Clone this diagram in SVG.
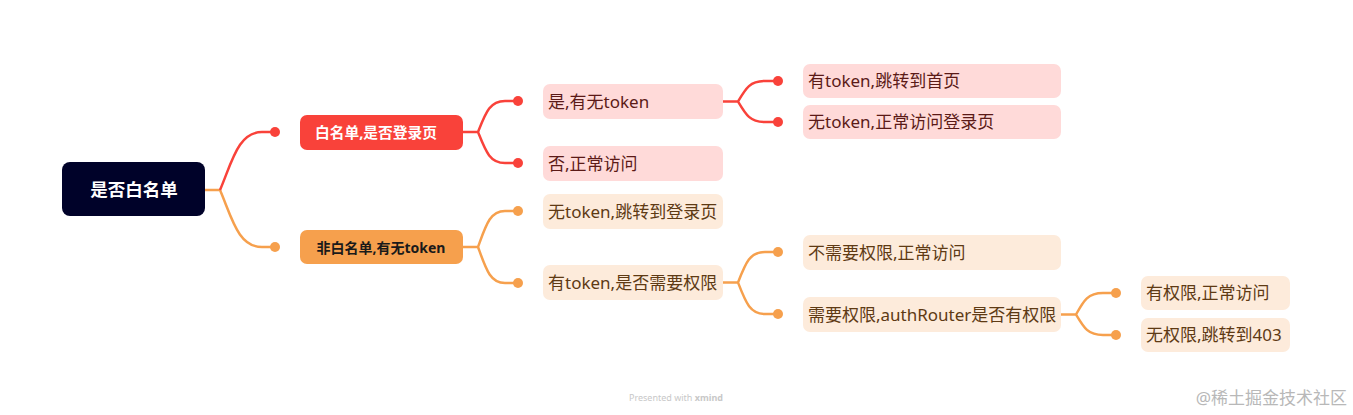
<svg xmlns="http://www.w3.org/2000/svg" width="1353" height="415" viewBox="0 0 1353 415">
<style>
text{font-family:"Noto Sans","Noto Sans CJK SC",sans-serif}
.lr{fill:#FFDAD9}
.lo{fill:#FDEBDB}
.tr{fill:#5B1A17;font-size:17px}
.to{fill:#5E3A14;font-size:17px}
.cr{fill:none;stroke:#F9423A;stroke-width:2.5}
.co{fill:none;stroke:#F6A04D;stroke-width:2.5}
.dr{fill:#F9423A}
.do{fill:#F6A04D}
</style>
<rect width="1353" height="415" fill="#ffffff"/>
<g id="connectors">
<path class="co" d="M205,190 H220 C232,218 238,247 262,247 H275"/>
<path class="cr" d="M220,190 C232,162 238,132 262,132 H275"/>
<circle class="dr" cx="275" cy="132" r="5"/>
<circle class="do" cx="275" cy="247" r="5"/>
<path class="cr" d="M463,132 H478 C486,112 490,101 505,101 H518 M478,132 C486,152 490,163 505,163 H518"/>
<circle class="dr" cx="518" cy="101" r="5"/>
<circle class="dr" cx="518" cy="163" r="5"/>
<path class="co" d="M463,247 H478 C486,225 490,211 505,211 H518 M478,247 C486,269 490,283 505,283 H518"/>
<circle class="do" cx="518" cy="211" r="5"/>
<circle class="do" cx="518" cy="283" r="5"/>
<path class="cr" d="M723,101.5 H738 C746,88 750,81 765,81 H778 M738,101.5 C746,115 750,122 765,122 H778"/>
<circle class="dr" cx="778" cy="81" r="5"/>
<circle class="dr" cx="778" cy="122" r="5"/>
<path class="co" d="M723,282.5 H738 C746,262 750,252 765,252 H778 M738,282.5 C746,303 750,314 765,314 H778"/>
<circle class="do" cx="778" cy="252" r="5"/>
<circle class="do" cx="778" cy="314" r="5"/>
<path class="co" d="M1061,314.5 H1076 C1084,300 1088,293 1103,293 H1116 M1076,314.5 C1084,328 1088,335 1103,335 H1116"/>
<circle class="do" cx="1116" cy="293" r="5"/>
<circle class="do" cx="1116" cy="335" r="5"/>
</g>
<g id="root">
<rect x="62" y="162" width="143" height="54" rx="8" fill="#000229"/>
<text x="134" y="196" text-anchor="middle" fill="#ffffff" font-size="17.5" font-weight="bold">是否白名单</text>
</g>
<g id="n-whitelist">
<rect x="300" y="115" width="163" height="35" rx="7" fill="#F9423A"/>
<text x="315" y="138" textLength="122" lengthAdjust="spacingAndGlyphs" fill="#ffffff" font-size="14.5" font-weight="bold">白名单,是否登录页</text>
</g>
<g id="n-nonwhitelist">
<rect x="300" y="230" width="163" height="34" rx="7" fill="#F6A04D"/>
<text x="381" y="252.5" text-anchor="middle" fill="#1a1a1a" font-size="14" font-weight="bold">非白名单,有无token</text>
</g>
<g id="n-a1">
<rect class="lr" x="543" y="84" width="180" height="35" rx="7"/>
<text class="tr" x="548" y="107.5">是,有无token</text>
</g>
<g id="n-a2">
<rect class="lr" x="543" y="146" width="180" height="35" rx="7"/>
<text class="tr" x="548" y="169.5">否,正常访问</text>
</g>
<g id="n-a11">
<rect class="lr" x="803" y="64" width="258" height="34" rx="7"/>
<text class="tr" x="808" y="87">有token,跳转到首页</text>
</g>
<g id="n-a12">
<rect class="lr" x="803" y="105" width="258" height="34" rx="7"/>
<text class="tr" x="808" y="128">无token,正常访问登录页</text>
</g>
<g id="n-b1">
<rect class="lo" x="543" y="194" width="180" height="35" rx="7"/>
<text class="to" x="548" y="217.5">无token,跳转到登录页</text>
</g>
<g id="n-b2">
<rect class="lo" x="543" y="265" width="180" height="35" rx="7"/>
<text class="to" x="548" y="288.5">有token,是否需要权限</text>
</g>
<g id="n-b21">
<rect class="lo" x="803" y="235" width="258" height="35" rx="7"/>
<text class="to" x="808" y="258.5">不需要权限,正常访问</text>
</g>
<g id="n-b22">
<rect class="lo" x="803" y="297" width="258" height="35" rx="7"/>
<text class="to" x="808" y="320.5">需要权限,authRouter是否有权限</text>
</g>
<g id="n-b221">
<rect class="lo" x="1141" y="276" width="149" height="34" rx="7"/>
<text class="to" x="1146" y="299">有权限,正常访问</text>
</g>
<g id="n-b222">
<rect class="lo" x="1141" y="318" width="149" height="34" rx="7"/>
<text class="to" x="1146" y="341">无权限,跳转到403</text>
</g>
<text x="676" y="401" text-anchor="middle" font-size="9" fill="#c8c8c8">Presented with <tspan font-weight="bold">xmind</tspan></text>
<text x="1347" y="404" text-anchor="end" font-size="17" fill="#b8b8b8">@稀土掘金技术社区</text>
</svg>
